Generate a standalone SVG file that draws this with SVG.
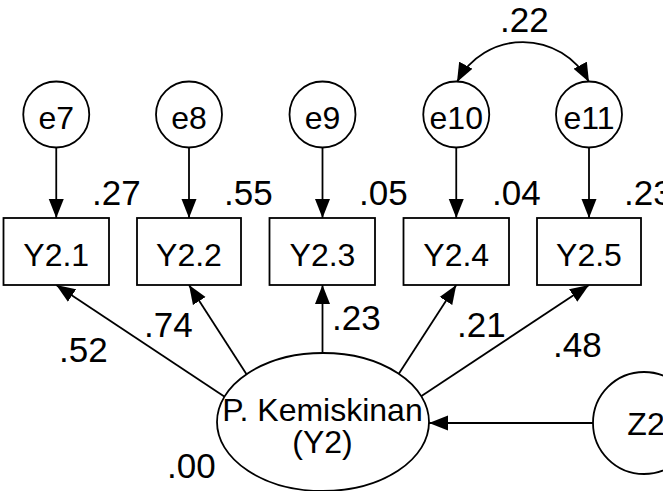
<svg xmlns="http://www.w3.org/2000/svg" width="663" height="491" viewBox="0 0 663 491">
<style>
.shape{fill:#fff;stroke:#000;stroke-width:1.8}
.conn{fill:none;stroke:#000;stroke-width:1.8}
.nt{font-family:"Liberation Sans",Arial,sans-serif;font-size:32px;fill:#000;text-anchor:middle}
.lb{font-family:"Liberation Sans",Arial,sans-serif;font-size:35px;fill:#000}
</style>
<defs>
<marker id="ah" markerUnits="userSpaceOnUse" markerWidth="20" markerHeight="16" refX="19" refY="7.5" orient="auto-start-reverse" viewBox="0 0 20 15">
<path d="M0,0 L19,7.5 L0,15 z" fill="#000"/>
</marker>
</defs>
<rect width="663" height="491" fill="#fff"/>
<g id="connectors">
<line class="conn" x1="56.25" y1="147.5" x2="56.25" y2="218" marker-end="url(#ah)"/>
<line class="conn" x1="189" y1="147.5" x2="189" y2="218" marker-end="url(#ah)"/>
<line class="conn" x1="322.5" y1="147.5" x2="322.5" y2="218" marker-end="url(#ah)"/>
<line class="conn" x1="456.25" y1="147.5" x2="456.25" y2="218" marker-end="url(#ah)"/>
<line class="conn" x1="589" y1="147.5" x2="589" y2="218" marker-end="url(#ah)"/>
<line class="conn" x1="225" y1="397" x2="56.25" y2="285" marker-end="url(#ah)"/>
<line class="conn" x1="247" y1="375" x2="189" y2="285" marker-end="url(#ah)"/>
<line class="conn" x1="322.5" y1="353" x2="322.5" y2="285" marker-end="url(#ah)"/>
<line class="conn" x1="398" y1="375" x2="456.25" y2="285" marker-end="url(#ah)"/>
<line class="conn" x1="420" y1="397" x2="589" y2="285" marker-end="url(#ah)"/>
<line class="conn" x1="593" y1="423" x2="429" y2="423" marker-end="url(#ah)"/>
<path class="conn" d="M457,82 A74.5,74.5 0 0 1 589,82" marker-start="url(#ah)" marker-end="url(#ah)"/>
</g>
<g id="e7"><circle class="shape" cx="56.25" cy="114.5" r="33"/><text class="nt" x="56.25" y="129">e7</text></g>
<g id="e8"><circle class="shape" cx="189" cy="114.5" r="33"/><text class="nt" x="189" y="129">e8</text></g>
<g id="e9"><circle class="shape" cx="322.5" cy="114.5" r="33"/><text class="nt" x="322.5" y="129">e9</text></g>
<g id="e10"><circle class="shape" cx="456.25" cy="114.5" r="33"/><text class="nt" x="456.25" y="129">e10</text></g>
<g id="e11"><circle class="shape" cx="589" cy="114.5" r="33"/><text class="nt" x="589" y="129">e11</text></g>
<g id="Y2.1"><rect class="shape" x="3.5" y="218" width="105.5" height="67"/><text class="nt" x="56.25" y="266">Y2.1</text></g>
<g id="Y2.2"><rect class="shape" x="137" y="218" width="104" height="67"/><text class="nt" x="189" y="266">Y2.2</text></g>
<g id="Y2.3"><rect class="shape" x="269.5" y="218" width="105.5" height="67"/><text class="nt" x="322.5" y="266">Y2.3</text></g>
<g id="Y2.4"><rect class="shape" x="403.5" y="218" width="105.5" height="67"/><text class="nt" x="456.25" y="266">Y2.4</text></g>
<g id="Y2.5"><rect class="shape" x="537" y="218" width="104" height="67"/><text class="nt" x="589" y="266">Y2.5</text></g>
<g id="Y2"><ellipse class="shape" cx="323" cy="422" rx="106" ry="69"/><text class="nt" x="322.5" y="421">P. Kemiskinan</text><text class="nt" x="322.5" y="453">(Y2)</text></g>
<g id="Z2"><circle class="shape" cx="644" cy="423" r="51"/><text class="nt" x="646" y="435">Z2</text></g>
<g id="labels">
<text class="lb" x="92" y="205">.27</text>
<text class="lb" x="224" y="205">.55</text>
<text class="lb" x="359" y="205">.05</text>
<text class="lb" x="492" y="205">.04</text>
<text class="lb" x="624" y="205">.23</text>
<text class="lb" x="500" y="32">.22</text>
<text class="lb" x="59" y="362">.52</text>
<text class="lb" x="144" y="337">.74</text>
<text class="lb" x="332" y="330">.23</text>
<text class="lb" x="457" y="337">.21</text>
<text class="lb" x="553" y="357">.48</text>
<text class="lb" x="167" y="478">.00</text>
</g>
</svg>
